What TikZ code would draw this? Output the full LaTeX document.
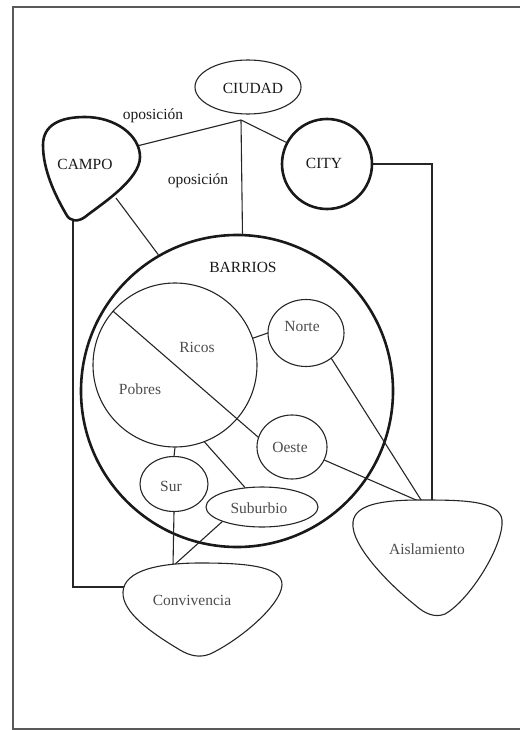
\documentclass[tikz,border=0pt]{standalone}
\usepackage{fontspec}
\setmainfont{Liberation Serif}
\usetikzlibrary{shapes.geometric}
\begin{document}
\begin{tikzpicture}[x=1pt,y=-1pt,
  thin line/.style={line width=1.1pt,black!85},
  thick line/.style={line width=2.6pt,black!90},
  frame line/.style={line width=1.6pt,black!65},
  lbl/.style={font=\fontsize{15.5pt}{18pt}\selectfont,text=black!90,inner sep=0pt},
  lbl2/.style={font=\fontsize{15.5pt}{18pt}\selectfont,text=black!70,inner sep=0pt},
  ell/.style={ellipse,draw,thin line,fill=white,inner sep=0pt},
  conn/.style={thin line}]
\useasboundingbox (0,0) rectangle (523,730);
% frame
\draw[frame line] (520,7) -- (13,7) -- (13,729) -- (520,729);
% big circles (drawn first)
\node[circle,draw,thick line,minimum size=312pt,inner sep=0pt] (barrios) at (237,391) {};
\node[circle,draw,thin line,minimum size=164pt,inner sep=0pt] (rp) at (175,365) {};
% coordinates
\coordinate (j) at (241,120);
\coordinate (campoR) at (137,146);
\coordinate (campoB) at (116,198);
\coordinate (campoS) at (73,216);
\coordinate (aisT) at (432,503);
\coordinate (aisT2) at (423,503);
\coordinate (convN) at (173,566);
\coordinate (convW) at (126,587);
% placeholders for the small ellipses (named, drawn later on top)
\path (306,333) node[ellipse,minimum width=76pt,minimum height=67pt,inner sep=0pt] (norte) {}
      (292,447) node[ellipse,minimum width=70pt,minimum height=64pt,inner sep=0pt] (oeste) {}
      (174,484) node[ellipse,minimum width=68pt,minimum height=55pt,inner sep=0pt] (sur) {}
      (262,507) node[ellipse,minimum width=112pt,minimum height=40pt,inner sep=0pt] (suburbio) {}
      (327,164) node[circle,minimum size=90pt,inner sep=0pt] (city) {};
% connectors
\draw[conn] (j) -- (campoR);
\draw[conn] (j) -- (barrios.88);
\draw[conn] (j) -- (city.152);
\draw[conn] (campoB) -- (barrios.120);
\draw[conn] (city.east) -| (aisT);
\draw[conn] (campoS) |- (convW);
\draw[conn] (rp.19) -- (norte.west);
\draw[conn] (norte.-45) -- (aisT2);
\draw[conn] (oeste.-22) -- (aisT2);
\draw[conn] (rp.139) -- (oeste.164);
\draw[conn] (rp.south) -- (sur.north);
\draw[conn] (rp.-69) -- (suburbio.131);
\draw[conn] (sur.south) -- (convN);
\draw[conn] (suburbio.-160) -- (convN);
% shapes on top
\node[ell,minimum width=106pt,minimum height=54pt] (ciudad) at (248,87) {};
\node[circle,draw,thick line,fill=white,minimum size=90pt,inner sep=0pt] at (city) {};
\node[ell,minimum width=76pt,minimum height=67pt] at (norte) {};
\node[ell,minimum width=70pt,minimum height=64pt] at (oeste) {};
\node[ell,minimum width=68pt,minimum height=55pt] at (sur) {};
\node[ell,minimum width=112pt,minimum height=40pt] at (suburbio) {};
\draw[thick line,fill=white] (85,117) .. controls (115,117) and (140,135) .. (140,157)
  .. controls (140,180) and (100,205) .. (85,217)
  .. controls (78,222) and (70,222) .. (66,214)
  .. controls (55,195) and (43,170) .. (43,145)
  .. controls (43,125) and (60,117) .. (85,117) -- cycle;
\draw[thin line,fill=white] (420,500) .. controls (460,500) and (500,500) .. (502,520)
  .. controls (504,545) and (470,600) .. (445,614)
  .. controls (435,618) and (425,614) .. (415,605)
  .. controls (390,585) and (350,545) .. (353,522)
  .. controls (355,505) and (380,500) .. (420,500) -- cycle;
\draw[thin line,fill=white] (200,563) .. controls (240,563) and (283,565) .. (282,585)
  .. controls (281,605) and (240,640) .. (210,654)
  .. controls (200,658) and (190,656) .. (180,650)
  .. controls (150,632) and (122,612) .. (123,592)
  .. controls (124,570) and (160,563) .. (200,563) -- cycle;
% texts
\node[lbl] at (253,88) {CIUDAD};
\node[lbl] at (324,163) {CITY};
\node[lbl] at (243,267) {BARRIOS};
\node[lbl] (campo) at (85,164) {CAMPO};
\node[lbl] (op1) at (153,116) {oposición};
\node[lbl] (op2) at (198,181) {oposición};
\node[lbl2] at (197,347) {Ricos};
\node[lbl2] at (140,389) {Pobres};
\node[lbl2] at (302,326) {Norte};
\node[lbl2] at (290,447) {Oeste};
\node[lbl2] at (171,486) {Sur};
\node[lbl2] at (259,508) {Suburbio};
\node[lbl2] (aislamiento) at (427,549) {Aislamiento};
\node[lbl2] (convivencia) at (192,600) {Convivencia};
\end{tikzpicture}
\end{document}
